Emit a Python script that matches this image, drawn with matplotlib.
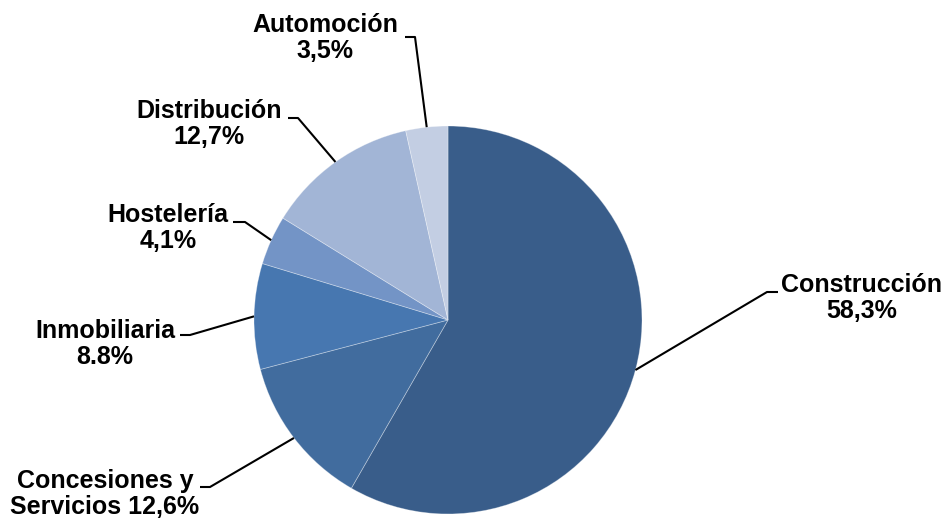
import numpy as np
import matplotlib.pyplot as plt

# cartera por sectores (%)
sectores = ['Construcción', 'Concesiones y Servicios', 'Inmobiliaria',
            'Hostelería', 'Distribución', 'Automoción']
porcentajes = [58.3, 12.6, 8.8, 4.1, 12.7, 3.5]
etiquetas = ['Construcción\n58,3%', 'Concesiones y\nServicios 12,6%',
             'Inmobiliaria\n8.8%', 'Hostelería\n4,1%',
             'Distribución\n12,7%', 'Automoción\n3,5%']
colores = ['#395d8a', '#416c9e', '#4777b0', '#7394c6', '#a2b5d6', '#c3cee3']

# posiciones de texto y codo de la linea guia (pixeles de la figura)
pos_texto = [(862, 298), (105, 494), (105, 344), (168, 228), (209, 124), (325, 38)]
codo = [(767, 292), (210, 487), (190, 335), (245, 222), (298, 118), (415, 37)]
ancla_h = [(778, 292), (200, 487), (180, 335), (233, 222), (288, 118), (405, 37)]

W, H = 951, 518
cx, cy, r = 448, 320, 194

fig = plt.figure(figsize=(W / 100, H / 100), dpi=100)
ax = fig.add_axes([0, 0, 1, 1])

wedges, _ = ax.pie(porcentajes, colors=colores, startangle=90, counterclock=False,
                   radius=1, center=(0, 0), frame=True,
                   wedgeprops=dict(edgecolor=(1, 1, 1, 0.35), linewidth=0.6))
ax.set_xlim(-cx / r, (W - cx) / r)
ax.set_ylim(-(H - cy) / r, cy / r)
ax.axis('off')


def px(p):
    return ((p[0] - cx) / r, (cy - p[1]) / r)


for w, lab, pt, cd, ah in zip(wedges, etiquetas, pos_texto, codo, ancla_h):
    ang = np.deg2rad((w.theta1 + w.theta2) / 2)
    edge = (np.cos(ang), np.sin(ang))
    c = px(cd)
    a = px(ah)
    ax.plot([edge[0], c[0], a[0]], [edge[1], c[1], a[1]], color='black', lw=1.5,
            solid_capstyle='butt')
    tx, ty = px(pt)
    ax.text(tx, ty, lab, ha='center', va='center', fontsize=18,
            fontweight='bold', family='Liberation Sans', linespacing=1.12)

fig.savefig('out.png', dpi=100, facecolor='white')
